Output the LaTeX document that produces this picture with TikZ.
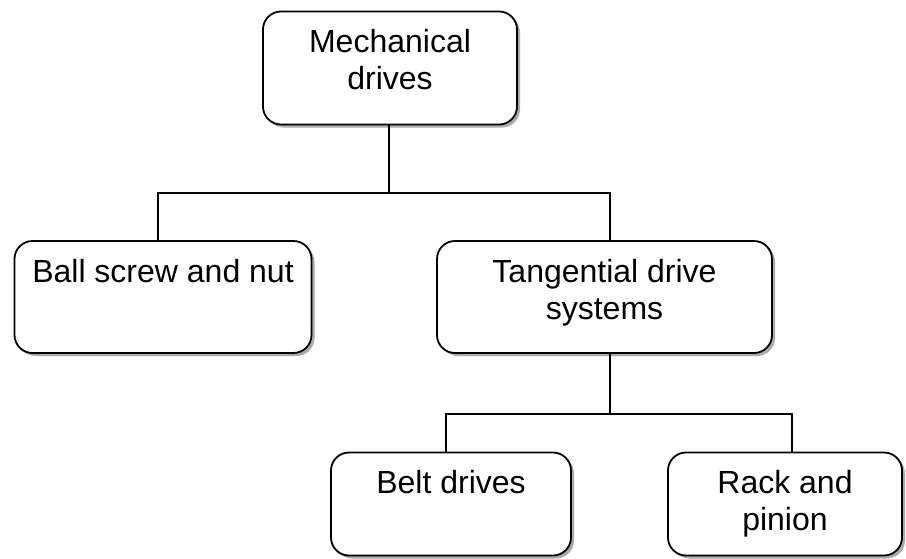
\documentclass[tikz,border=0pt]{standalone}
\usepackage{fontspec}
\setmainfont{Liberation Sans}
\usetikzlibrary{shadows}
\tikzset{
  box/.style={draw=black, line width=1.8pt, rounded corners=18pt, fill=white,
    inner sep=0pt,
    drop shadow={shadow xshift=3pt, shadow yshift=-3pt, opacity=0.55, fill=black!60}},
  lbl/.style={inner sep=0pt, align=center, anchor=north,
    font=\fontsize{32}{37}\selectfont},
  conn/.style={draw=black, line width=1.8pt}
}
\begin{document}
\begin{tikzpicture}[x=1pt,y=-1pt]
\useasboundingbox (0,0) rectangle (906,558);
% boxes
\node[box, minimum width=254pt, minimum height=113pt] (mech) at (390,68) {};
\node[box, minimum width=297pt, minimum height=112pt] (ball) at (163,297) {};
\node[box, minimum width=335pt, minimum height=112pt] (tang) at (604.5,297) {};
\node[box, minimum width=240pt, minimum height=103pt] (belt) at (451,504) {};
\node[box, minimum width=234pt, minimum height=103pt] (rack) at (785,504) {};
% texts
\node[lbl] (mechT) at ([yshift=-17pt]mech.north) {\rule{0pt}{25pt}Mechanical\\drives};
\node[lbl] (ballT) at ([yshift=-17pt]ball.north) {\rule{0pt}{25pt}Ball screw and nut};
\node[lbl] (tangT) at ([yshift=-17pt]tang.north) {\rule{0pt}{25pt}Tangential drive\\systems};
\node[lbl] (beltT) at ([yshift=-17pt]belt.north) {\rule{0pt}{25pt}Belt drives};
\node[lbl] (rackT) at ([yshift=-17pt]rack.north) {\rule{0pt}{25pt}Rack and\\pinion};
% junction and attachment coordinates
\coordinate (m0) at (389,124.5);
\coordinate (j1) at (389,193);
\coordinate (b0) at (158,241.5);
\coordinate (t0) at (610,241.5);
\coordinate (t1) at (610,353.5);
\coordinate (j2) at (610,414);
\coordinate (e0) at (446,452.5);
\coordinate (r0) at (792,452.5);
% connectors
\draw[conn] (m0) -- (j1);
\draw[conn] (b0) |- (t0 |- j1) -- (t0);
\draw[conn] (t1) -- (j2);
\draw[conn] (e0) |- (r0 |- j2) -- (r0);
\end{tikzpicture}
\end{document}
